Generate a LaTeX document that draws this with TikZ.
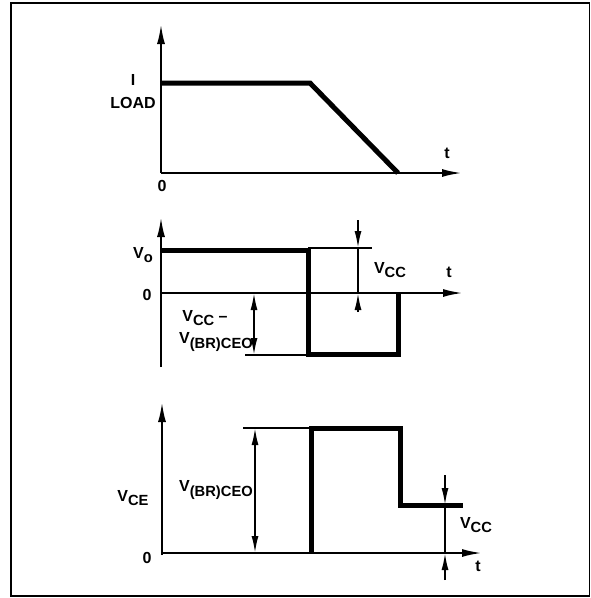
\documentclass[tikz,border=0pt]{standalone}
\usepackage{fontspec}
\setmainfont{Liberation Sans}
\usepackage{tikz}
\usetikzlibrary{arrows.meta}
\newcommand{\lo}[1]{\raisebox{-0.5ex}{\scalebox{0.92}{#1}}}

\begin{document}
\begin{tikzpicture}[
  x=1pt, y=-1pt,
  font=\fontsize{16}{18}\selectfont\bfseries,
  axis/.style={line width=2.2pt, -{Latex[length=20pt, width=8pt]}},
  wave/.style={line width=5pt, line join=miter},
  guide/.style={line width=1.8pt},
  dim/.style={line width=1.8pt, -{Latex[length=17pt, width=7pt]}},
  dimb/.style={line width=1.8pt, {Latex[length=17pt, width=7pt]}-{Latex[length=17pt, width=7pt]}},
  lab/.style={inner sep=0pt},
]
\useasboundingbox (0,0) rectangle (590,598);
\draw[line width=1.8pt] (11,3) rectangle (589.5,596);
% ---- top panel: load current ----
\coordinate (o1) at (161,173);
\draw[axis] (o1) -- (161,24);
\draw[axis] (o1) -- (462,173);
\draw[wave] (161,83) -- (310,83) -- (398,173);
\node[lab] (iload) at (133,80) {I};
\node[lab] (load) at (133,103) {LOAD};
\node[lab] (zero1) at (162,186) {0};
\node[lab] (t1) at (447,153) {t};
% ---- middle panel: output voltage ----
\coordinate (o2) at (161,293);
\draw[axis] (161,367) -- (161,217);
\draw[axis] (o2) -- (463,293);
\draw[wave] (161,250) -- (308,250) -- (308,354) -- (398,354) -- (398,293);
\draw[guide] (308,248) -- (372,248);
\draw[guide] (245,355) -- (308,355);
\draw[dimb] (254,293) -- (254,355);
\draw[guide] (358,248) -- (358,293);
\draw[dim] (358,220) -- (358,248);
\draw[dim] (358,312) -- (358,293);
\node[lab] (vo) at (143,255) {V\lo{o}};
\node[lab] (zero2) at (147,295) {0};
\node[lab] (vcc2) at (390,270) {V\lo{CC}};
\node[lab] (t2) at (449,272) {t};
\node[lab] (vdiff) at (205,318) {V\lo{CC} --};
\node[lab, anchor=east] (vbr2) at (253,342) {V\lo{(BR)CEO}};
% ---- bottom panel: collector-emitter voltage ----
\coordinate (o3) at (162,553);
\draw[axis] (162,555) -- (162,402);
\draw[axis] (o3) -- (482,553);
\draw[guide] (243,428) -- (311,428);
\draw[wave] (311,553) -- (311,428) -- (400,428) -- (400,505) -- (463,505);
\draw[dimb] (255,428) -- (255,553);
\draw[guide] (445,505) -- (445,553);
\draw[dim] (445,475) -- (445,505);
\draw[dim] (445,580) -- (445,553);
\node[lab] (vce) at (133,498) {V\lo{CE}};
\node[lab] (zero3) at (147,558) {0};
\node[lab, anchor=east] (vbr3) at (253,490) {V\lo{(BR)CEO}};
\node[lab] (vcc3) at (476,525) {V\lo{CC}};
\node[lab] (t3) at (478,566) {t};
\end{tikzpicture}
\end{document}
